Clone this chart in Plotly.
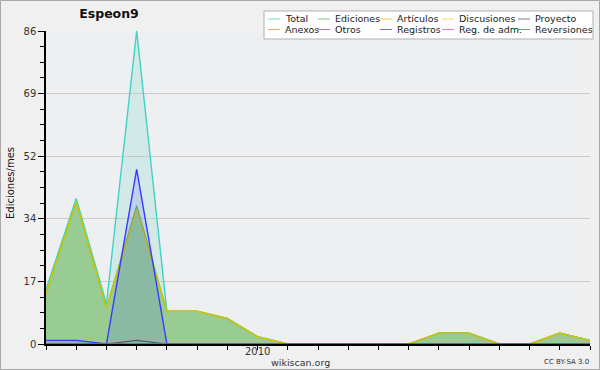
import plotly.graph_objects as go

months = ["2009-06", "2009-07", "2009-08", "2009-09", "2009-10", "2009-11", "2009-12",
          "2010-01", "2010-02", "2010-03", "2010-04", "2010-05", "2010-06", "2010-07",
          "2010-08", "2010-09", "2010-10", "2010-11", "2010-12"]
year_label_month = "2010-01"
year_label = "2010"

total       = [15, 40, 11, 86, 9, 9, 7, 2, 0, 0, 0, 0, 0, 3, 3, 0, 0, 3, 1]
ediciones   = [14, 39, 10, 38, 9, 9, 7, 2, 0, 0, 0, 0, 0, 3, 3, 0, 0, 3, 1]
articulos   = [14, 39, 10, 37, 9, 9, 7, 2, 0, 0, 0, 0, 0, 3, 3, 0, 0, 3, 1]
discusiones = [0] * 19
proyecto    = [0, 0, 0, 1, 0, 0, 0, 0, 0, 0, 0, 0, 0, 0, 0, 0, 0, 0, 0]
anexos      = [0] * 19
otros       = [0] * 19
registros   = [1, 1, 0, 48, 0, 0, 0, 0, 0, 0, 0, 0, 0, 0, 0, 0, 0, 0, 0]
reg_adm     = [0] * 19
reversiones = [0] * 19

y_tickvals = [0, 17.2, 34.4, 51.6, 68.8, 86]
y_ticktext = ["0", "17", "34", "52", "69", "86"]

# name, values, line colour, fill colour (None = no fill), width
series = [
    ("Total", total, "#3fd3c6", "rgba(120,215,200,0.22)", 1.4),
    ("Ediciones", ediciones, "#5cb85c", "rgba(140,200,140,0.88)", 1.2),
    ("Artículos", articulos, "#d4c400", "rgba(200,200,60,0.06)", 1.4),
    ("Discusiones", discusiones, "#ffc830", None, 1.0),
    ("Proyecto", proyecto, "#555555", None, 1.2),
    ("Anexos", anexos, "#ff8040", None, 1.0),
    ("Otros", otros, "#8a3fe0", None, 1.0),
    ("Registros", registros, "#3a3aff", "rgba(70,90,255,0.16)", 1.4),
    ("Reg. de adm.", reg_adm, "#dd40ee", None, 1.0),
    ("Reversiones", reversiones, "#ee3030", None, 1.0),
]

fig = go.Figure()
for name, vals, col, fillcol, w in series:
    fig.add_trace(go.Scatter(
        x=months, y=vals, name=name, mode="lines",
        line=dict(color=col, width=w),
        fill="tozeroy" if fillcol else None,
        fillcolor=fillcol,
        showlegend=False,
    ))

W, H = 600, 370
L, R, T, B = 46, 10, 31, 26
pw, ph = W - L - R, H - T - B


def px(x):
    return (x - L) / pw


def py(y):
    return (H - B - y) / ph


shapes = []
annotations = []

# outer frame
shapes.append(dict(type="rect", xref="paper", yref="paper",
                   x0=px(0.5), x1=px(W - 0.5), y0=py(H - 0.5), y1=py(0.5),
                   line=dict(color="#a8a8a8", width=1), fillcolor="rgba(0,0,0,0)"))

# legend box
shapes.append(dict(type="rect", xref="paper", yref="paper",
                   x0=px(264), x1=px(593), y0=py(39), y1=py(11),
                   line=dict(color="#b0b0b0", width=1), fillcolor="#ffffff"))
col_x = [268, 318, 380, 442, 518]
row_y = [19, 29.5]
for i, (name, vals, col, fillcol, w) in enumerate(series):
    r, c = divmod(i, 5)
    x0 = col_x[c]
    yy = row_y[r]
    shapes.append(dict(type="line", xref="paper", yref="paper",
                       x0=px(x0), x1=px(x0 + 12), y0=py(yy), y1=py(yy),
                       line=dict(color=col, width=1), opacity=0.75))
    annotations.append(dict(xref="paper", yref="paper", x=px(x0 + 15), y=py(yy),
                            text=name, showarrow=False, xanchor="left", yanchor="middle",
                            font=dict(size=9.5, color="#222222", family="DejaVu Sans")))

# y axis title
annotations.append(dict(xref="paper", yref="paper", x=px(10), y=py(183),
                        text="Ediciones/mes", showarrow=False, textangle=-90,
                        xanchor="center", yanchor="middle",
                        font=dict(size=10, color="#111111", family="DejaVu Sans")))
# year label under its month tick
annotations.append(dict(xref="x", yref="paper", x=year_label_month, y=py(351),
                        text=year_label, showarrow=False, xanchor="center", yanchor="middle",
                        font=dict(size=10, color="#333333", family="DejaVu Sans")))
annotations.append(dict(xref="paper", yref="paper", x=px(300), y=py(362),
                        text="wikiscan.org", showarrow=False, xanchor="center", yanchor="middle",
                        font=dict(size=9.5, color="#333333", family="DejaVu Sans")))
annotations.append(dict(xref="paper", yref="paper", x=px(591), y=py(362),
                        text="CC BY-SA 3.0", showarrow=False, xanchor="right", yanchor="middle",
                        font=dict(size=7, color="#333333", family="DejaVu Sans")))

fig.update_layout(
    width=W, height=H,
    margin=dict(l=L, r=R, t=T, b=B),
    paper_bgcolor="#f0f0f0",
    plot_bgcolor="#eeeff1",
    font=dict(family="DejaVu Sans", color="#333333", size=10),
    title=dict(text="<b>Espeon9</b>", x=109 / W, xanchor="center",
               y=1 - 14 / H, yanchor="middle",
               font=dict(size=12.5, color="#111111", family="DejaVu Sans")),
    shapes=shapes,
    annotations=annotations,
    xaxis=dict(type="category", range=[0, len(months) - 1], automargin=False,
               tickmode="array", tickvals=months, ticktext=[""] * len(months),
               ticks="outside", ticklen=4, tickcolor="#000000", tickwidth=1,
               showline=True, linecolor="#000000", linewidth=1.5,
               showgrid=False, zeroline=False,
               tickfont=dict(size=10, color="#333333")),
    yaxis=dict(range=[0, 86], tickmode="array", tickvals=y_tickvals, ticktext=y_ticktext,
               automargin=False,
               ticks="outside", ticklen=6, tickcolor="#000000", tickwidth=1,
               minor=dict(tickmode="linear", tick0=0, dtick=4.3, ticks="outside",
                          ticklen=4, tickcolor="#000000", showgrid=False),
               showline=True, linecolor="#000000", linewidth=1.5,
               showgrid=True, gridcolor="#cccccc", gridwidth=1, zeroline=False,
               tickfont=dict(size=10, color="#333333")),
)

fig.write_html("out.html", config={"displayModeBar": False},
               post_script="document.body.style.margin='0';")
